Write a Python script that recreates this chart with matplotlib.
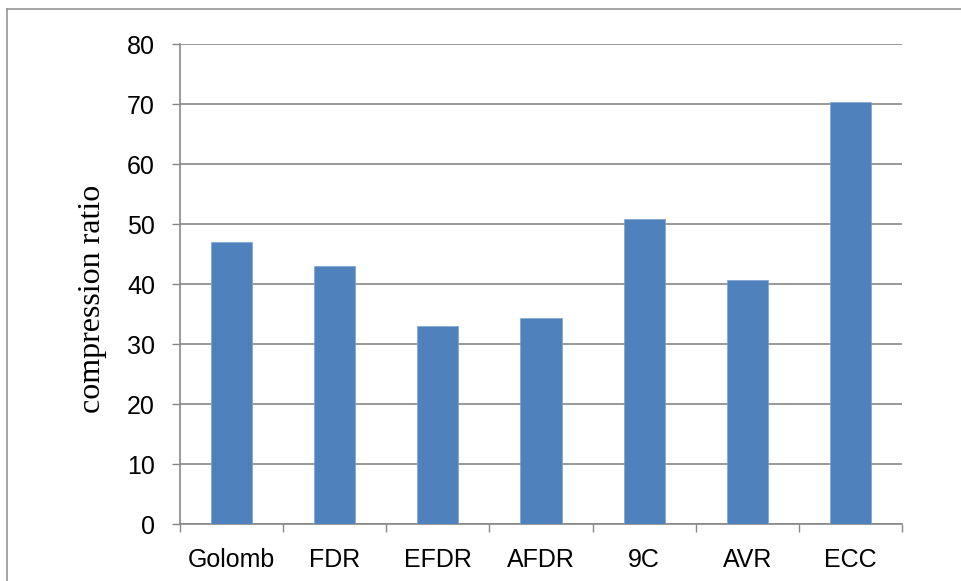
import matplotlib
matplotlib.use("Agg")
import matplotlib.pyplot as plt
from matplotlib.patches import Rectangle
from matplotlib.ticker import FixedLocator

methods = ["Golomb", "FDR", "EFDR", "AFDR", "9C", "AVR", "ECC"]
ratios = [47.0, 43.0, 33.0, 34.4, 50.8, 40.7, 70.4]
y_ticks = [0, 10, 20, 30, 40, 50, 60, 70, 80]

bar_color = "#4F81BD"
line_gray = "#888888"
tick_font = ["Liberation Sans", "DejaVu Sans"]

fig = plt.figure(figsize=(9.62, 5.81), dpi=100)
fig.patch.set_facecolor("white")

# chart frame (open to the right and bottom)
fig.add_artist(plt.Line2D([7 / 962, 7 / 962], [0, 1 - 9 / 581],
                          transform=fig.transFigure, color="#8c8c8c", linewidth=1.1))
fig.add_artist(plt.Line2D([7 / 962, 1], [1 - 9 / 581, 1 - 9 / 581],
                          transform=fig.transFigure, color="#8c8c8c", linewidth=1.1))

ax = fig.add_axes([180 / 962, 1 - 524 / 581, 722 / 962, 480 / 581])
x = list(range(len(methods)))
ax.bar(x, ratios, width=0.4, color=bar_color, edgecolor="#7da2d1",
       linewidth=0.5, zorder=3)

ax.set_xlim(-0.5, len(methods) - 0.5)
ax.set_ylim(0, 80)
ax.set_yticks(y_ticks)
ax.set_yticklabels([str(v) for v in y_ticks], family=tick_font, fontsize=18)
ax.set_xticks(x)
ax.set_xticklabels(methods, family=tick_font, fontsize=18)
ax.xaxis.set_minor_locator(FixedLocator([i - 0.5 for i in range(len(methods) + 1)]))

ax.tick_params(axis="x", which="major", length=0, pad=17)
ax.tick_params(axis="x", which="minor", length=6, width=1.0, color=line_gray)
ax.tick_params(axis="y", which="major", length=6, width=1.0, color=line_gray, pad=12)

ax.grid(axis="y", color=line_gray, linewidth=1.2, zorder=0)
ax.set_axisbelow(True)
for side in ("top", "right"):
    ax.spines[side].set_visible(False)
for side in ("left", "bottom"):
    ax.spines[side].set_color(line_gray)
    ax.spines[side].set_linewidth(1.2)

ax.set_ylabel("compression ratio", family=["Liberation Serif", "DejaVu Serif"],
              fontsize=23)
ax.yaxis.set_label_coords(-0.101, 0.469)

fig.savefig("out.png", dpi=100, facecolor="white")
